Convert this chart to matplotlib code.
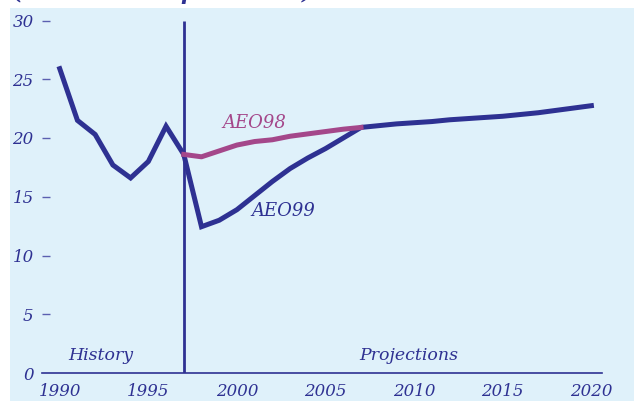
import matplotlib
matplotlib.use("Agg")
import matplotlib.pyplot as plt

# Data
hist_years = [1990, 1991, 1992, 1993, 1994, 1995, 1996, 1997]
hist_vals = [25.9, 21.5, 20.3, 17.7, 16.6, 18.0, 21.0, 18.6]

aeo99_years = [1997, 1998, 1999, 2000, 2001, 2002, 2003, 2004, 2005, 2006, 2007,
               2008, 2009, 2010, 2011, 2012, 2013, 2014, 2015, 2016, 2017, 2018, 2019, 2020]
aeo99_vals = [18.6, 12.45, 13.0, 13.9, 15.1, 16.3, 17.4, 18.3, 19.1, 20.0, 20.9,
              21.05, 21.2, 21.3, 21.4, 21.55, 21.65, 21.75, 21.85, 22.0, 22.15, 22.35, 22.55, 22.75]

aeo98_years = [1997, 1998, 1999, 2000, 2001, 2002, 2003, 2004, 2005, 2006, 2007]
aeo98_vals = [18.6, 18.4, 18.9, 19.4, 19.7, 19.85, 20.15, 20.35, 20.55, 20.75, 20.9]

x_ticks = [1990, 1995, 2000, 2005, 2010, 2015, 2020]
y_ticks = [0, 5, 10, 15, 20, 25, 30]

blue = "#2e3192"
pink = "#a4478a"
bg = "#dff1fa"
font = "DejaVu Serif"

W, H = 636, 401
fig = plt.figure(figsize=(W / 100, H / 100), dpi=100)
fig.patch.set_facecolor("white")
# light blue panel
rect = plt.Rectangle((10 / W, 0), 1 - 12 / W, (H - 8) / H,
                     transform=fig.transFigure, facecolor=bg,
                     edgecolor="none", zorder=-5)
fig.patches.append(rect)
# clipped title text at top (only descenders visible in the reference)
fig.text(13 / W, 1 + 1 / H, "(1997 dollars per barrel)", fontsize=15.5,
         fontweight="bold", fontstyle="italic", family=font, color=blue,
         ha="left", va="baseline")

ax = fig.add_axes([42 / W, (H - 373) / H, (602 - 42) / W, (373 - 20.5) / H])
ax.set_zorder(2)
ax.set_facecolor("none")
ax.set_xlim(1989, 2020.6)
ax.set_ylim(0, 30)

for s in ["top", "right", "left"]:
    ax.spines[s].set_visible(False)
ax.spines["bottom"].set_color(blue)
ax.spines["bottom"].set_linewidth(1.2)

ax.vlines(1997, 0, 30, color=blue, lw=2.0, zorder=2)
ax.plot(hist_years, hist_vals, color=blue, lw=3.6, solid_joinstyle="miter", zorder=3)
ax.plot(aeo99_years, aeo99_vals, color=blue, lw=3.6, solid_joinstyle="miter", zorder=3)
ax.plot(aeo98_years, aeo98_vals, color=pink, lw=3.6, zorder=4)

ax.set_yticks(y_ticks)
ax.set_yticklabels([str(v) for v in y_ticks], family=font, style="italic",
                   fontsize=12, color=blue)
ax.tick_params(axis="y", direction="in", length=6, width=1, color="#5b5fb0", pad=6)
ax.set_xticks(x_ticks)
ax.set_xticklabels([str(v) for v in x_ticks], family=font, style="italic",
                   fontsize=12, color=blue)
ax.tick_params(axis="x", length=0, pad=7)
ax.yaxis.get_ticklines()[0].set_visible(False)

ax.text(1992.3, 0.8, "History", family=font, style="italic", fontsize=12.5,
        color=blue, ha="center", va="bottom")
ax.text(2009.7, 0.8, "Projections", family=font, style="italic", fontsize=12.5,
        color=blue, ha="center", va="bottom")
ax.text(2001.0, 21.3, "AEO98", family=font, style="italic", fontsize=13,
        color=pink, ha="center", va="center")
ax.text(2002.6, 13.8, "AEO99", family=font, style="italic", fontsize=13,
        color=blue, ha="center", va="center")

fig.savefig("out.png", dpi=100)
